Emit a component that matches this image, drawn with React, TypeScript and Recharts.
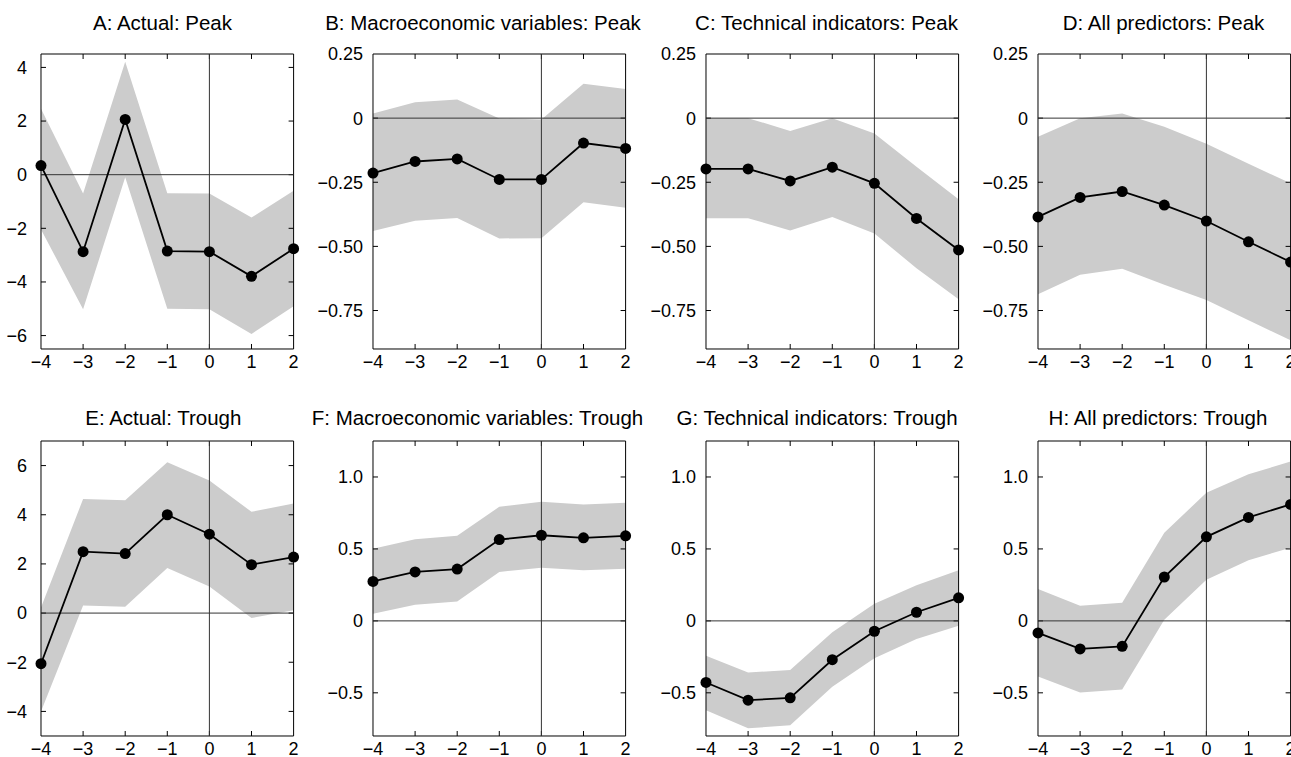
import React from 'react';
import { ComposedChart, Area, Line, XAxis, YAxis, ReferenceLine } from 'recharts';

// event time relative to the business-cycle turning point
const leads = [-4, -3, -2, -1, 0, 1, 2];
const leadLabels = ['−4', '−3', '−2', '−1', '0', '1', '2'];

// A: Actual: Peak
const actualPeak = [0.34, -2.87, 2.06, -2.85, -2.87, -3.79, -2.76];
const actualPeakLow = [-2.04, -5.02, -0.1, -5.0, -5.02, -5.94, -4.91];
const actualPeakHigh = [2.46, -0.7, 4.21, -0.69, -0.7, -1.6, -0.6];

// B: Macroeconomic variables: Peak
const macroPeak = [-0.214, -0.169, -0.159, -0.239, -0.239, -0.097, -0.118];
const macroPeakLow = [-0.44, -0.4, -0.389, -0.469, -0.468, -0.328, -0.349];
const macroPeakHigh = [0.018, 0.062, 0.073, -0.001, -0.005, 0.134, 0.114];

// C: Technical indicators: Peak
const techPeak = [-0.198, -0.198, -0.245, -0.191, -0.254, -0.391, -0.514];
const techPeakLow = [-0.39, -0.39, -0.438, -0.385, -0.45, -0.585, -0.706];
const techPeakHigh = [0.0, 0.0, -0.05, 0.0, -0.06, -0.19, -0.316];

// D: All predictors: Peak
const allPeak = [-0.385, -0.309, -0.286, -0.339, -0.401, -0.482, -0.561];
const allPeakLow = [-0.687, -0.611, -0.587, -0.65, -0.709, -0.788, -0.866];
const allPeakHigh = [-0.073, 0.0, 0.018, -0.034, -0.1, -0.178, -0.254];

// E: Actual: Trough
const actualTrough = [-2.06, 2.5, 2.42, 4.0, 3.21, 1.97, 2.28];
const actualTroughLow = [-4.0, 0.31, 0.26, 1.83, 1.08, -0.2, 0.12];
const actualTroughHigh = [0.23, 4.64, 4.59, 6.14, 5.39, 4.12, 4.46];

// F: Macroeconomic variables: Trough
const macroTrough = [0.274, 0.34, 0.36, 0.565, 0.595, 0.577, 0.591];
const macroTroughLow = [0.049, 0.112, 0.135, 0.34, 0.37, 0.351, 0.363];
const macroTroughHigh = [0.502, 0.567, 0.591, 0.793, 0.828, 0.809, 0.821];

// G: Technical indicators: Trough
const techTrough = [-0.428, -0.551, -0.535, -0.27, -0.072, 0.06, 0.16];
const techTroughLow = [-0.621, -0.747, -0.726, -0.458, -0.26, -0.126, -0.033];
const techTroughHigh = [-0.242, -0.358, -0.342, -0.079, 0.119, 0.247, 0.351];

// H: All predictors: Trough
const allTrough = [-0.084, -0.195, -0.177, 0.305, 0.584, 0.719, 0.809];
const allTroughLow = [-0.386, -0.498, -0.477, 0.007, 0.286, 0.421, 0.509];
const allTroughHigh = [0.221, 0.105, 0.126, 0.612, 0.891, 1.019, 1.107];

// y ticks
const actualPeakTicks = [4, 2, 0, -2, -4, -6];
const actualPeakTickLabels = ['4', '2', '0', '−2', '−4', '−6'];
const peakTicks = [0.25, 0, -0.25, -0.5, -0.75];
const peakTickLabels = ['0.25', '0', '−0.25', '−0.50', '−0.75'];
const actualTroughTicks = [6, 4, 2, 0, -2, -4];
const actualTroughTickLabels = ['6', '4', '2', '0', '−2', '−4'];
const troughTicks = [1, 0.5, 0, -0.5];
const troughTickLabels = ['1.0', '0.5', '0', '−0.5'];

const FONT = '"Liberation Sans", Arial, Helvetica, sans-serif';
const TICK_FS = 18;
const colLeft = [40.7, 373.3, 705.7, 1038.3];
const rowTop = [53.5, 441.3];
const titleBase = [30, 425];
const PW = 252.6;
const PH = 295;
const YW = 60;
const MT = 15;
const MR = 20;
const TICK_LEN = 5;

interface PanelDef {
  title: string;
  titleX: number;
  mean: number[];
  low: number[];
  high: number[];
  domain: [number, number];
  ticks: number[];
  tickLabels: string[];
  row: number;
  col: number;
  gap: number;
}

const panels: PanelDef[] = [
  { title: 'A: Actual: Peak', titleX: 162.5, mean: actualPeak, low: actualPeakLow, high: actualPeakHigh, domain: [-6.5, 4.5], ticks: actualPeakTicks, tickLabels: actualPeakTickLabels, row: 0, col: 0, gap: 14 },
  { title: 'B: Macroeconomic variables: Peak', titleX: 483, mean: macroPeak, low: macroPeakLow, high: macroPeakHigh, domain: [-0.9, 0.25], ticks: peakTicks, tickLabels: peakTickLabels, row: 0, col: 1, gap: 10 },
  { title: 'C: Technical indicators: Peak', titleX: 826.5, mean: techPeak, low: techPeakLow, high: techPeakHigh, domain: [-0.9, 0.25], ticks: peakTicks, tickLabels: peakTickLabels, row: 0, col: 2, gap: 10 },
  { title: 'D: All predictors: Peak', titleX: 1163.5, mean: allPeak, low: allPeakLow, high: allPeakHigh, domain: [-0.9, 0.25], ticks: peakTicks, tickLabels: peakTickLabels, row: 0, col: 3, gap: 10 },
  { title: 'E: Actual: Trough', titleX: 163.3, mean: actualTrough, low: actualTroughLow, high: actualTroughHigh, domain: [-5, 7], ticks: actualTroughTicks, tickLabels: actualTroughTickLabels, row: 1, col: 0, gap: 14 },
  { title: 'F: Macroeconomic variables: Trough', titleX: 477.5, mean: macroTrough, low: macroTroughLow, high: macroTroughHigh, domain: [-0.8, 1.25], ticks: troughTicks, tickLabels: troughTickLabels, row: 1, col: 1, gap: 10 },
  { title: 'G: Technical indicators: Trough', titleX: 817, mean: techTrough, low: techTroughLow, high: techTroughHigh, domain: [-0.8, 1.25], ticks: troughTicks, tickLabels: troughTickLabels, row: 1, col: 2, gap: 10 },
  { title: 'H: All predictors: Trough', titleX: 1158, mean: allTrough, low: allTroughLow, high: allTroughHigh, domain: [-0.8, 1.25], ticks: troughTicks, tickLabels: troughTickLabels, row: 1, col: 3, gap: 10 },
];

const BottomTick = (props: any) => {
  const { payload } = props;
  const px = Number(props.x);
  const py = Number(props.y);
  return (
    <text x={px} y={py + 19.5} textAnchor="middle" fontSize={TICK_FS} fontFamily={FONT} fill="#000">
      {leadLabels[leads.indexOf(payload.value)]}
    </text>
  );
};

const makeLeftTick = (p: PanelDef) => (props: any) => {
  const { payload } = props;
  const px = Number(props.x);
  const py = Number(props.y);
  return (
    <text x={px - p.gap} y={py + 6.4} textAnchor="end" fontSize={TICK_FS} fontFamily={FONT} fill="#000">
      {p.tickLabels[p.ticks.indexOf(payload.value)]}
    </text>
  );
};

const Panel: React.FC<{ p: PanelDef }> = ({ p }) => {
  const data = leads.map((lead, i) => ({ lead, mean: p.mean[i], band: [p.low[i], p.high[i]] }));
  const [y0, y1] = p.domain;
  // inward tick marks, converted from pixels to data units
  const dx = (TICK_LEN * 6) / PW;
  const dy = (TICK_LEN * (y1 - y0)) / PH;
  const innerX = leads.filter((v) => v > -4 && v < 2);
  const innerY = p.ticks.filter((v) => v > y0 && v < y1);
  const seg = { xAxisId: 'b', yAxisId: 'l', stroke: '#000', strokeWidth: 1, ifOverflow: 'visible' as const };
  return (
    <>
      <div
        style={{
          position: 'absolute',
          left: p.titleX - 200,
          width: 400,
          top: titleBase[p.row] - 17.5,
          textAlign: 'center',
          fontSize: 20.5,
          lineHeight: '20px',
          whiteSpace: 'nowrap',
        }}
      >
        {p.title}
      </div>
      <div style={{ position: 'absolute', left: colLeft[p.col] - YW, top: rowTop[p.row] - MT - 1 }}>
        <ComposedChart
          width={YW + PW + 1 + MR}
          height={MT + 1 + PH + 30}
          data={data}
          margin={{ top: MT, right: MR, bottom: 0, left: 0 }}
        >
          <XAxis
            xAxisId="b"
            dataKey="lead"
            type="number"
            domain={[-4, 2]}
            ticks={leads}
            height={30}
            tickSize={0}
            tickMargin={0}
            tick={BottomTick}
            axisLine={false}
            tickLine={false}
            interval={0}
          />
          <XAxis xAxisId="t" orientation="top" dataKey="lead" type="number" domain={[-4, 2]} height={1} tick={false} axisLine={false} tickLine={false} />
          <YAxis
            yAxisId="l"
            type="number"
            domain={p.domain}
            ticks={p.ticks}
            width={YW}
            tickSize={0}
            tickMargin={0}
            tick={makeLeftTick(p)}
            axisLine={false}
            tickLine={false}
            interval={0}
          />
          <YAxis yAxisId="r" orientation="right" type="number" domain={p.domain} width={1} tick={false} axisLine={false} tickLine={false} />
          <Area
            xAxisId="b"
            yAxisId="l"
            dataKey="band"
            type="linear"
            fill="#cccccc"
            fillOpacity={1}
            stroke="none"
            isAnimationActive={false}
          />
          {/* box */}
          <ReferenceLine {...seg} x={-4} />
          <ReferenceLine {...seg} x={2} />
          <ReferenceLine {...seg} y={y0} />
          <ReferenceLine {...seg} y={y1} />
          {/* tick marks on all four sides */}
          {innerX.map((v) => (
            <ReferenceLine key={`xb${v}`} {...seg} segment={[{ x: v, y: y0 }, { x: v, y: y0 + dy }]} />
          ))}
          {innerX.map((v) => (
            <ReferenceLine key={`xt${v}`} {...seg} segment={[{ x: v, y: y1 }, { x: v, y: y1 - dy }]} />
          ))}
          {innerY.map((v) => (
            <ReferenceLine key={`yl${v}`} {...seg} segment={[{ x: -4, y: v }, { x: -4 + dx, y: v }]} />
          ))}
          {innerY.map((v) => (
            <ReferenceLine key={`yr${v}`} {...seg} segment={[{ x: 2, y: v }, { x: 2 - dx, y: v }]} />
          ))}
          {/* zero lines */}
          <ReferenceLine xAxisId="b" yAxisId="l" y={0} stroke="#333" strokeWidth={1} />
          <ReferenceLine xAxisId="b" yAxisId="l" x={0} stroke="#333" strokeWidth={1} />
          <Line
            xAxisId="b"
            yAxisId="l"
            dataKey="mean"
            type="linear"
            stroke="#000"
            strokeWidth={1.8}
            dot={{ r: 5.5, fill: '#000', stroke: '#000', strokeWidth: 0 }}
            isAnimationActive={false}
          />
        </ComposedChart>
      </div>
    </>
  );
};

export default function App() {
  return (
    <div
      style={{
        position: 'absolute',
        left: 0,
        top: 0,
        width: 1291,
        height: 757,
        overflow: 'hidden',
        background: '#fff',
        fontFamily: FONT,
        color: '#000',
      }}
    >
      {panels.map((p) => (
        <Panel key={p.title} p={p} />
      ))}
    </div>
  );
}
